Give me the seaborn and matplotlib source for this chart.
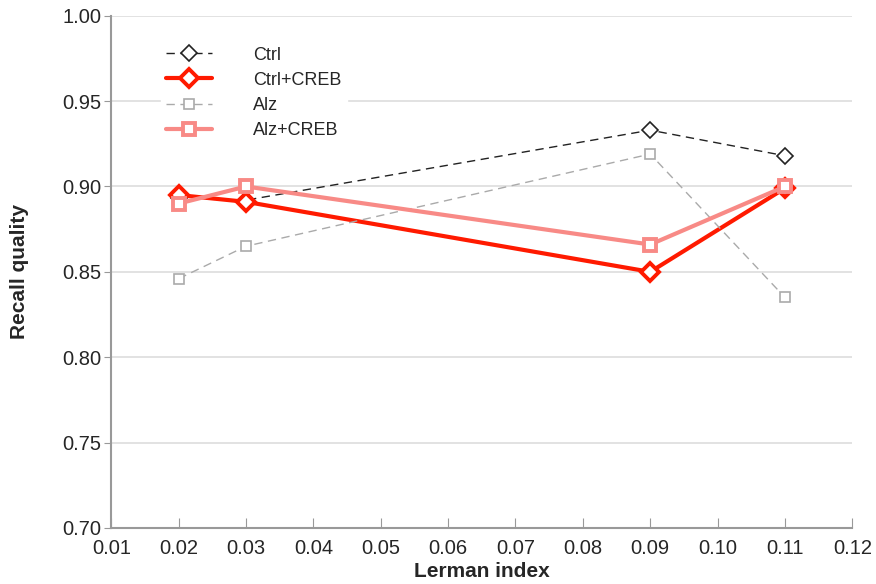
import numpy as np
import pandas as pd
import matplotlib
matplotlib.use("Agg")
import matplotlib.pyplot as plt
import seaborn as sns

lerman = [0.02, 0.03, 0.09, 0.11]
ctrl = [0.893, 0.892, 0.933, 0.918]
ctrl_creb = [0.895, 0.891, 0.850, 0.899]
alz = [0.846, 0.865, 0.919, 0.835]
alz_creb = [0.890, 0.900, 0.866, 0.900]

series = [
    ("Ctrl", ctrl, dict(color="#222222", lw=1.0, ls=(0, (6, 4)), marker="D", ms=8, mew=1.2)),
    ("Ctrl+CREB", ctrl_creb, dict(color="#ff1a00", lw=3.0, ls="-", marker="D", ms=9, mew=2.8)),
    ("Alz", alz, dict(color="#aaaaaa", lw=1.0, ls=(0, (6, 4)), marker="s", ms=7.5, mew=1.2)),
    ("Alz+CREB", alz_creb, dict(color="#f88a86", lw=3.0, ls="-", marker="s", ms=8, mew=2.8)),
]

sns.set_style("white")
plt.rcParams['font.family'] = ['Liberation Sans', 'DejaVu Sans']

fig = plt.figure(figsize=(8.76, 5.84), dpi=100)
ax = fig.add_axes([0.127, 0.096, 0.846, 0.877])

for name, vals, st in series:
    df = pd.DataFrame({"x": lerman, "y": vals})
    sns.lineplot(data=df, x="x", y="y", ax=ax, label=name, color=st["color"],
                 linewidth=st["lw"], linestyle=st["ls"], marker=st["marker"],
                 markersize=st["ms"], markerfacecolor="white",
                 markeredgecolor=st["color"], markeredgewidth=st["mew"])

xt = np.round(np.arange(0.01, 0.1201, 0.01), 2)
yt = np.round(np.arange(0.70, 1.001, 0.05), 2)
ax.set_xlim(0.01, 0.12)
ax.set_ylim(0.70, 1.00)
ax.set_xticks(xt)
ax.set_xticklabels([f"{v:.2f}" for v in xt])
ax.set_yticks(yt)
ax.set_yticklabels([f"{v:.2f}" for v in yt])
ax.yaxis.grid(True, color="#dddddd", lw=1.2)
ax.set_axisbelow(True)
for s in ["top", "right"]:
    ax.spines[s].set_visible(False)
for s in ["left", "bottom"]:
    ax.spines[s].set_color("#999999")
    ax.spines[s].set_linewidth(1.5)
ax.tick_params(axis="x", direction="in", length=7, color="#999999", labelsize=14.5, pad=8, bottom=True)
ax.tick_params(axis="y", direction="out", length=5, color="#999999", labelsize=14.5, pad=2, left=True)
ax.set_xlabel("Lerman index", fontsize=15, fontweight="bold", labelpad=3)
ax.set_ylabel("Recall quality", fontsize=15, fontweight="bold", labelpad=24)

leg = ax.legend(loc="upper left", bbox_to_anchor=(0.055, 0.968), frameon=True,
                fontsize=13, handlelength=2.5, handletextpad=2.3,
                labelspacing=0.45, borderpad=0.3)
leg.get_frame().set_edgecolor("white")
leg.get_frame().set_alpha(1)

fig.savefig("out.png", dpi=100)
